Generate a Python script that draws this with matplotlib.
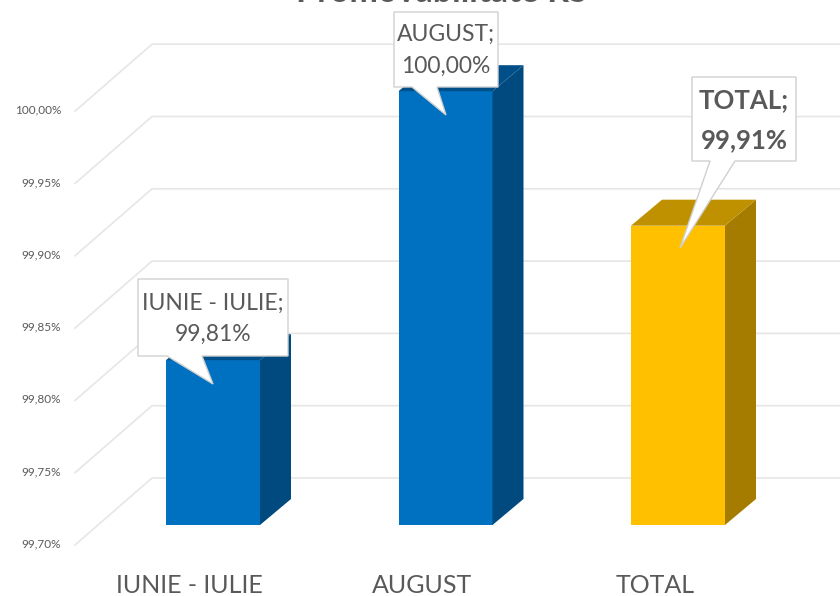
import matplotlib
matplotlib.use("Agg")
import matplotlib.pyplot as plt
from matplotlib.patches import Polygon

categories = ["IUNIE - IULIE", "AUGUST", "TOTAL"]
values = [99.814, 100.00, 99.907]
ticks = [99.70, 99.75, 99.80, 99.85, 99.90, 99.95, 100.00]
title = "Promovabilitate RS"

FRONT = ["#0070C0", "#0070C0", "#FFC000"]
SIDE = ["#004A80", "#004A80", "#A67C00"]
TOP = ["#004F88", "#004F88", "#BF9000"]
GREY = "#595959"
W, H = 840, 596

# value scale: 99.70 sits at pixel 525 on the bar front plane, 72.3 px per 0.05
PX_PER_VAL = 72.3 / 0.05
PX_PER_CAT = 232.5
X0 = 213.0
BASE_Y = 525.0
BAR_W = 94 / PX_PER_CAT
DEPTH_X = 31 / PX_PER_CAT
DEPTH_Y = 26 / PX_PER_VAL
WALL_Y = 47 / PX_PER_VAL        # back wall above the bar front plane
FRONT_GRID_Y = -20 / PX_PER_VAL  # front edge of floor grid

plt.rcParams["font.family"] = ["Lato", "DejaVu Sans"]
fig = plt.figure(figsize=(W / 100, H / 100), dpi=100)
ax = fig.add_axes([0, 0, 1, 1])
ax.set_xlim(-X0 / PX_PER_CAT, (W - X0) / PX_PER_CAT)
ax.set_ylim(99.70 - (H - BASE_Y) / PX_PER_VAL, 99.70 + BASE_Y / PX_PER_VAL)
ax.axis("off")

# overlay in pixel coordinates for the callouts
over = fig.add_axes([0, 0, 1, 1], zorder=5)
over.set_xlim(0, W)
over.set_ylim(H, 0)
over.axis("off")
over.patch.set_alpha(0)

# grid: diagonal on the side wall then flat along the back
x_front = (75 - X0) / PX_PER_CAT
x_back = (152 - X0) / PX_PER_CAT
x_end = (W - X0) / PX_PER_CAT
for v in ticks:
    ax.plot([x_front, x_back, x_end],
            [v + FRONT_GRID_Y, v + WALL_Y, v + WALL_Y],
            color="#E6E6E6", lw=1.2, zorder=1)

for v in ticks:
    ax.text((61 - X0) / PX_PER_CAT, v + FRONT_GRID_Y + 1 / PX_PER_VAL,
            f"{v:.2f}%".replace(".", ","), ha="right", va="center",
            fontsize=8.5, color=GREY)

for i, (cat, v) in enumerate(zip(categories, values)):
    l, r = i - BAR_W / 2, i + BAR_W / 2
    b = ticks[0]
    ax.add_patch(Polygon([(l, b), (r, b), (r, v), (l, v)], color=FRONT[i], lw=0, zorder=3))
    ax.add_patch(Polygon([(r, b), (r + DEPTH_X, b + DEPTH_Y), (r + DEPTH_X, v + DEPTH_Y), (r, v)],
                         color=SIDE[i], lw=0, zorder=3))
    ax.add_patch(Polygon([(l, v), (r, v), (r + DEPTH_X, v + DEPTH_Y), (l + DEPTH_X, v + DEPTH_Y)],
                         color=TOP[i], lw=0, zorder=3))
    ax.text(i - 0.1, 99.70 - 60 / PX_PER_VAL, cat, ha="center", va="center",
            fontsize=18, color=GREY)

# title runs off the top edge in the source image too
over.text(442, 2, title, ha="center", va="baseline", fontsize=24.5,
          fontweight="bold", color=GREY)

# callout outlines: box corners plus the pointer
callouts = [
    [(138, 279), (288, 279), (288, 356), (202, 356), (213, 384), (167, 356), (138, 356)],
    [(394, 12), (498, 12), (498, 87), (437, 87), (446, 115), (412, 87), (394, 87)],
    [(692, 77), (796, 77), (796, 161), (735, 161), (680, 248), (710, 161), (692, 161)],
]
centers = [(213, 319), (446, 50), (744, 120)]
bold = [False, False, True]
sizes = [16.5, 16.5, 18.5]
spacing = [1.6, 1.65, 1.82]
for i, (pts, (cx, cy)) in enumerate(zip(callouts, centers)):
    over.add_patch(Polygon(pts, facecolor="white", edgecolor="#D0D0D0", lw=1, zorder=6))
    label = f"{categories[i]};\n{values[i]:.2f}%".replace(".", ",")
    over.text(cx, cy, label, ha="center", va="center", fontsize=sizes[i], color=GREY,
              linespacing=spacing[i], fontweight="bold" if bold[i] else "normal", zorder=7)

fig.savefig("out.png", dpi=100)
